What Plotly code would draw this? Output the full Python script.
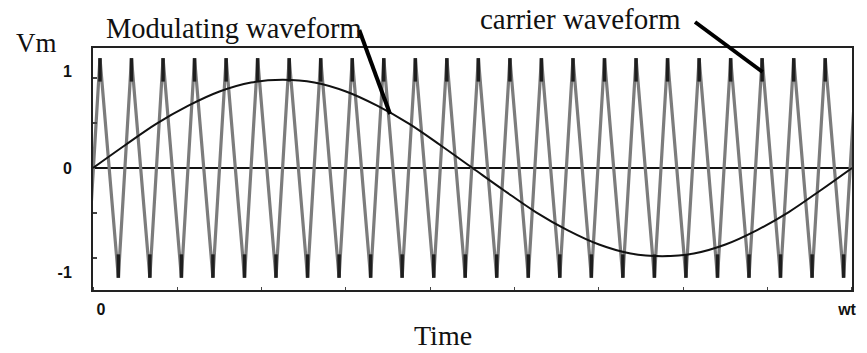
import plotly.graph_objects as go

# ---- data (x in fractions of one modulating period, 0 -> wt) ----
carrier_peak_t = [0.0092, 0.0507, 0.0923, 0.1338, 0.1754, 0.2169, 0.2585, 0.3000,
                  0.3416, 0.3831, 0.4247, 0.4662, 0.5077, 0.5493, 0.5908, 0.6324,
                  0.6739, 0.7155, 0.7570, 0.7986, 0.8401, 0.8816, 0.9232, 0.9647, 1.0063]
carrier_valley_t = [-0.0081, 0.0334, 0.0749, 0.1165, 0.1580, 0.1996, 0.2411, 0.2827,
                    0.3242, 0.3658, 0.4073, 0.4489, 0.4904, 0.5319, 0.5735, 0.6150,
                    0.6566, 0.6981, 0.7397, 0.7812, 0.8228, 0.8643, 0.9058, 0.9474, 0.9889]
carrier_peak_v = 1.22
carrier_valley_v = -1.22

mod_t = [0.0, 0.0417, 0.0833, 0.125, 0.1667, 0.2083, 0.25, 0.2917, 0.3333, 0.375,
         0.4167, 0.4583, 0.5, 0.5417, 0.5833, 0.625, 0.6667, 0.7083, 0.75, 0.7917,
         0.8333, 0.875, 0.9167, 0.9583, 1.0]
mod_v = [0.0, 0.25, 0.49, 0.69, 0.85, 0.95, 0.98, 0.95, 0.85, 0.69,
         0.49, 0.25, 0.0, -0.25, -0.49, -0.69, -0.85, -0.95, -0.98, -0.95,
         -0.85, -0.69, -0.49, -0.25, 0.0]

y_tick_vals = [-1.16, 0, 1.07]
y_tick_text = ["-1", "0", "1"]
x_tick_vals = [0.0105, 0.9935]
x_tick_text = ["0", "wt"]

# build carrier polyline from its vertices
pts = sorted([(t, carrier_peak_v) for t in carrier_peak_t] +
             [(t, carrier_valley_v) for t in carrier_valley_t])
car_x = [p[0] for p in pts]
car_y = [p[1] for p in pts]

W, H = 867, 353
ML, MR, MT, MB = 93, 10, 48, 63
PW, PH = W - ML - MR, H - MT - MB


def px(x):
    return (x - ML) / PW


def py(y):
    return (H - MB - y) / PH


tip = 0.26  # length of the darker ink near each carrier tip (style)

fig = go.Figure()
fig.add_trace(go.Scatter(x=car_x, y=car_y, mode="lines",
                         line=dict(color="#7c7c7c", width=3.2), hoverinfo="skip"))
# darker tips of the carrier
fig.add_trace(go.Scatter(
    x=car_x, y=car_y, mode="markers",
    marker=dict(size=1, color="rgba(0,0,0,0)"),
    error_y=dict(type="data", symmetric=False,
                 array=[tip if v < 0 else 0 for v in car_y],
                 arrayminus=[tip if v > 0 else 0 for v in car_y],
                 thickness=3.5, width=0, color="#1e1e1e"),
    hoverinfo="skip"))
fig.add_trace(go.Scatter(x=mod_t, y=mod_v, mode="lines",
                         line=dict(color="#111111", width=2, shape="spline"),
                         hoverinfo="skip"))

serif = "Liberation Serif, Times New Roman, serif"
tickfont = dict(family="Liberation Sans, Arial, sans-serif", size=16, color="#111", weight="bold")

fig.update_layout(
    width=W, height=H,
    margin=dict(l=ML, r=MR, t=MT, b=MB),
    paper_bgcolor="white", plot_bgcolor="white",
    showlegend=False,
    xaxis=dict(range=[0, 1], showgrid=False, zeroline=False,
               showline=True, mirror=True, linecolor="#222", linewidth=2,
               tickmode="array", tickvals=x_tick_vals, ticktext=x_tick_text,
               ticks="", tickfont=tickfont, ticklabelstandoff=4,
               minor=dict(tickmode="linear", tick0=0, dtick=0.1111, ticks="inside",
                          ticklen=3, tickcolor="#444", tickwidth=1)),
    yaxis=dict(range=[-1.356, 1.333], showgrid=False,
               zeroline=True, zerolinecolor="#111", zerolinewidth=2,
               showline=True, mirror=True, linecolor="#222", linewidth=2,
               tickmode="array", tickvals=y_tick_vals, ticktext=y_tick_text,
               ticks="", tickfont=tickfont, ticklabelstandoff=16,
               minor=dict(tickmode="array", tickvals=[-1, -0.5, 0.5, 1], ticks="inside",
                          ticklen=4, tickcolor="#444", tickwidth=2)),
)

ann = [
    ("Vm", 13, 43, 27),
    ("Modulating waveform", 104, 29, 28.5),
    ("carrier waveform", 481, 19, 29),
    ("Time", 414, 335, 28),
]
for text, x, y, s in ann:
    fig.add_annotation(text=text, xref="paper", yref="paper", x=px(x), y=py(y),
                       xanchor="left", yanchor="middle", showarrow=False,
                       font=dict(family=serif, size=s, color="#111"))

for (x0, y0, x1, y1) in [(361, 30, 392, 114), (699, 22, 767, 72)]:
    fig.add_shape(type="line", xref="paper", yref="paper",
                  x0=px(x0), y0=py(y0), x1=px(x1), y1=py(y1),
                  line=dict(color="#000", width=4))

fig.write_html("out.html", config={"displayModeBar": False},
               post_script="document.body.style.margin='0';document.body.style.overflow='hidden';")
